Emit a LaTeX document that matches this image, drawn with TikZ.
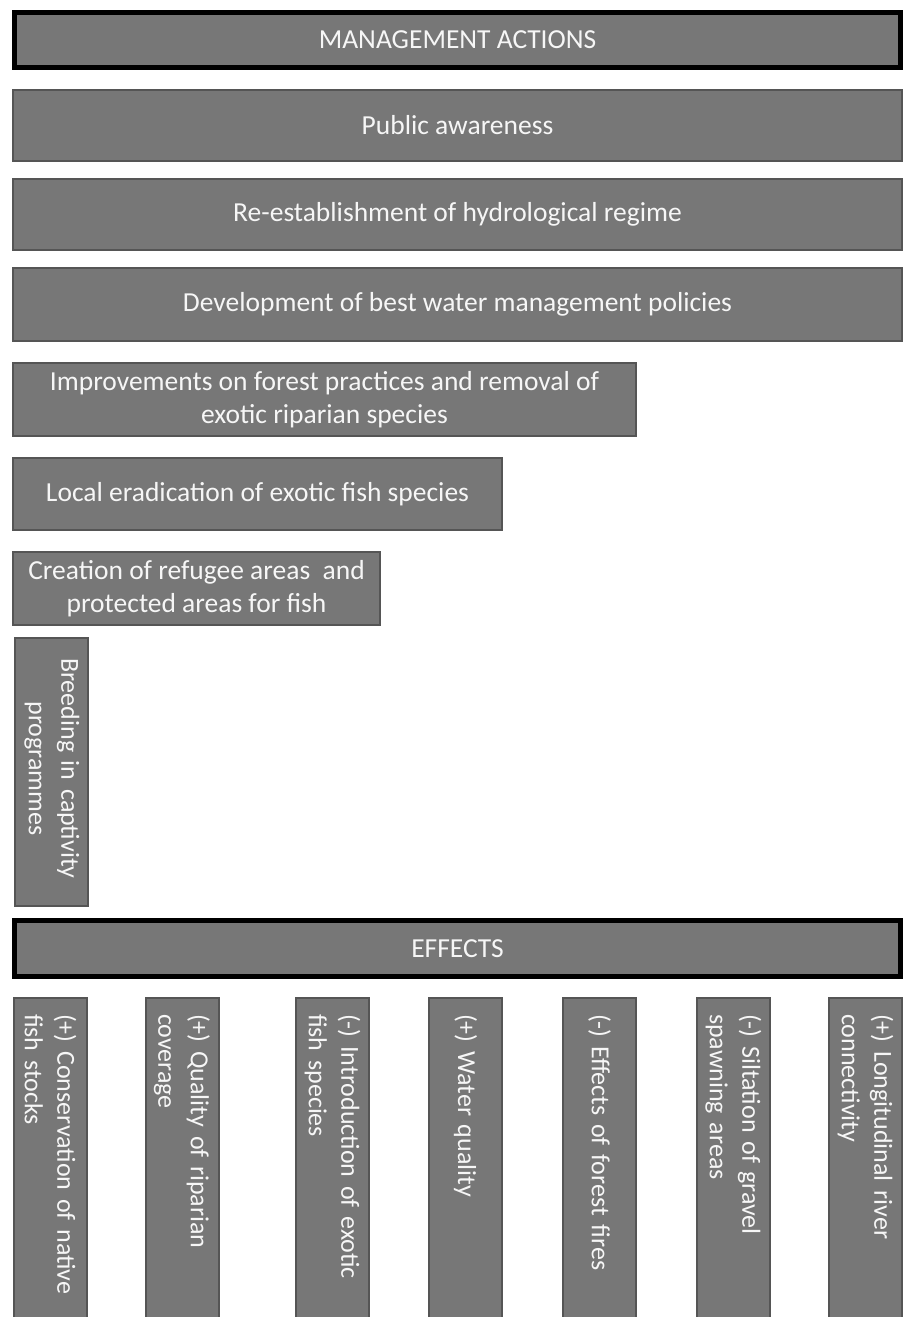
\documentclass[tikz,border=0pt]{standalone}
\usepackage{fontspec}
\setmainfont{Carlito}
\begin{document}
\begin{tikzpicture}[
    x=1bp, y=-1bp,
    font=\fontsize{26bp}{32.5bp}\selectfont,
    header/.style={draw=black, line width=5bp, fill=BoxGray, text=BoxText, inner sep=0pt,
        font=\fontsize{27.5bp}{33bp}\selectfont},
    action/.style={draw=BoxEdge, line width=2bp, fill=BoxGray, text=BoxText, inner sep=0pt, align=center,
        font=\fontsize{27.5bp}{33bp}\selectfont},
    effect/.style={draw=BoxEdge, line width=2bp, fill=BoxGray, text=BoxText, rotate=-90,
        align=left, inner xsep=16bp, inner ysep=0pt, text width=300bp, minimum height=73bp},
]
    \definecolor{BoxGray}{RGB}{119,119,119}
    \definecolor{BoxEdge}{RGB}{85,85,85}
    \definecolor{BoxText}{RGB}{246,246,246}
    \useasboundingbox[fill=white] (0,0) rectangle (905,1317);

    % Management actions
    \node[header, minimum width=886bp, minimum height=55bp] (actions) at (457.5,40) {MANAGEMENT ACTIONS};
    \node[action, minimum width=889bp, minimum height=71bp] (awareness) at (457.5,125.5) {Public awareness};
    \node[action, minimum width=889bp, minimum height=71bp] (regime) at (457.5,214.5) {Re-establishment of hydrological regime};
    \node[action, minimum width=889bp, minimum height=73bp] (policies) at (457.5,304.5) {Development of best water management policies};
    \node[action, minimum width=623bp, minimum height=73bp] (forest) at (324.5,399.5) {Improvements on forest practices and removal of\\ exotic riparian species};
    \node[action, minimum width=489bp, minimum height=72bp] (eradication) at (257.5,494) {Local eradication of exotic fish species};
    \node[action, minimum width=367bp, minimum height=73bp] (refugee) at (196.5,588.5) {Creation of refugee areas \ and\\ protected areas for fish};
    \node[effect, inner xsep=20bp, text width=228bp] (breeding) at (51.5,772)
        {\begin{tabular}{@{}c@{}}Breeding in captivity\\ programmes\end{tabular}};

    % Effects
    \node[header, minimum width=886bp, minimum height=56bp] (effects) at (457.5,948.5) {EFFECTS};
    \node[effect] (stocks) at (50.5,1164) {(+) Conservation of native\\ fish stocks};
    \node[effect] (riparian) at (182,1164) {(+) Quality of riparian\\ coverage};
    \node[effect] (exotic) at (332.5,1164) {(-) Introduction of exotic\\ fish species};
    \node[effect] (water) at (465.5,1164) {(+) Water quality};
    \node[effect] (fires) at (599.5,1164) {(-) Effects of forest fires};
    \node[effect] (siltation) at (733.5,1164) {(-) Siltation of gravel\\ spawning areas};
    \node[effect] (connectivity) at (865.5,1164) {(+) Longitudinal river\\ connectivity};
\end{tikzpicture}
\end{document}
